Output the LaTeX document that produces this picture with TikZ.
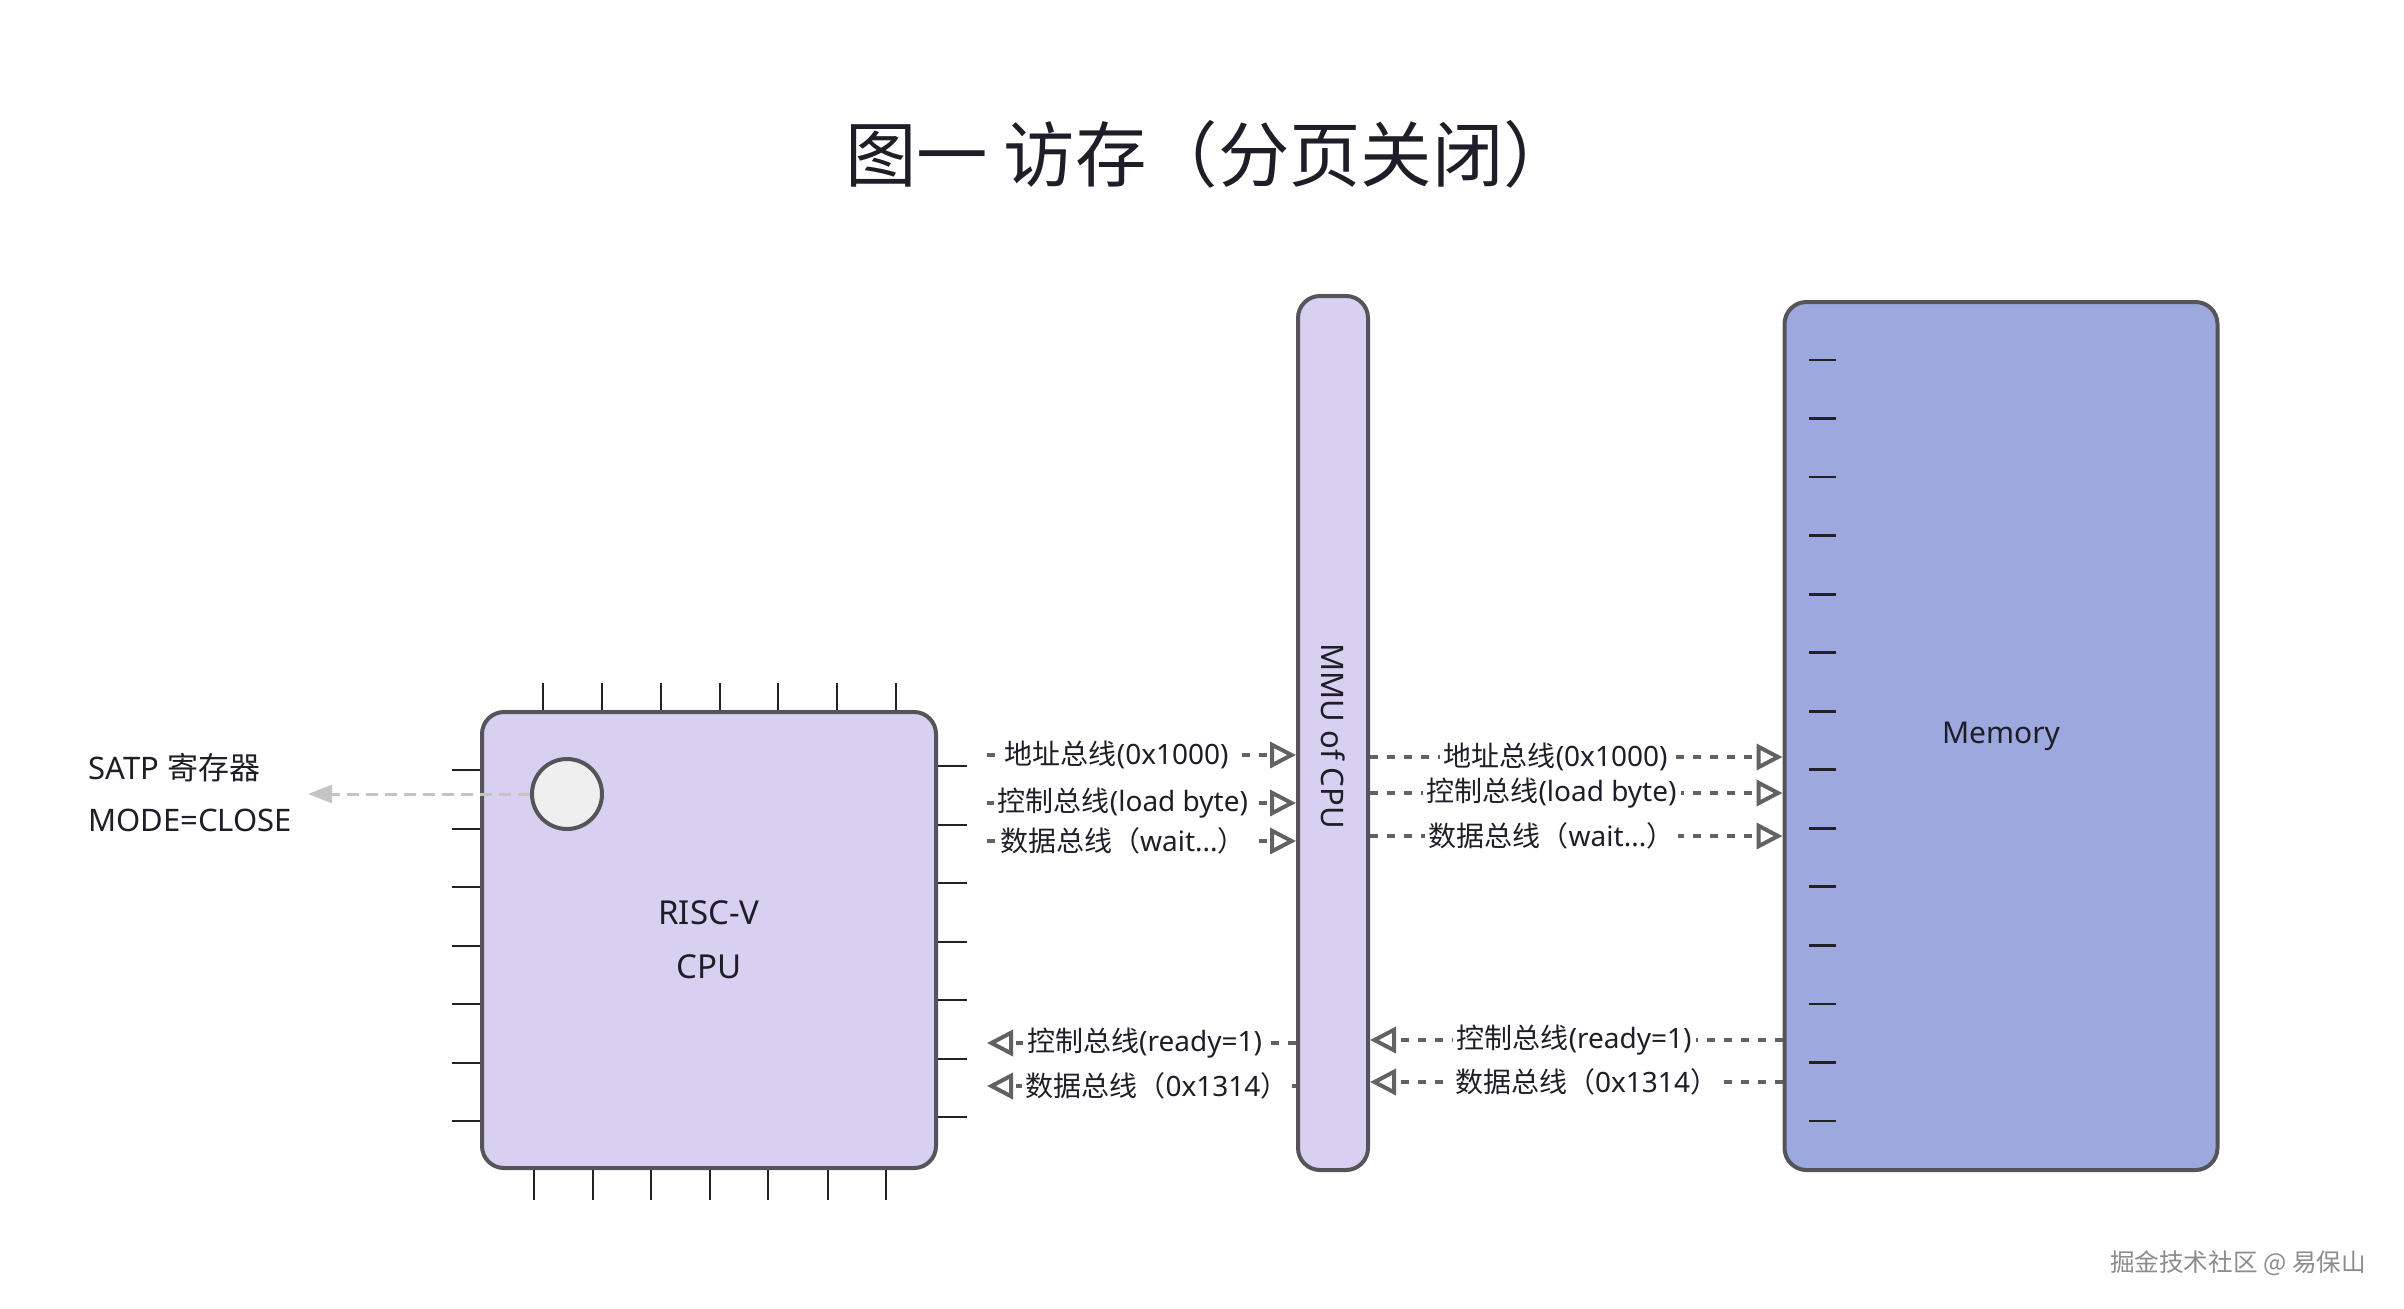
\documentclass[tikz,border=0pt]{standalone}
\usepackage{fontspec}
\setmainfont{Noto Sans}
\newfontfamily\cjk{Noto Sans CJK SC}
\usetikzlibrary{arrows.meta}
\definecolor{cpuc}{HTML}{D8D0F0}
\definecolor{memc}{HTML}{9DA8DF}
\definecolor{edge}{HTML}{555458}
\definecolor{busc}{HTML}{626262}
\definecolor{txt}{HTML}{1E1E28}
\definecolor{pinc}{HTML}{222222}
\definecolor{satpc}{HTML}{C4C4C4}
\definecolor{circc}{HTML}{EFEFEF}
\definecolor{wm}{HTML}{8C8C8C}
\tikzset{
  chip/.style={draw=edge, line width=2pt, rounded corners=11pt, inner sep=0pt, text=txt, font=\fontsize{15}{27}\selectfont, align=center},
  pin/.style={draw=pinc, line width=1.2pt},
  bus/.style={draw=busc, line width=2pt, dash pattern=on 4pt off 4.5pt, -{Triangle[open, length=13pt, width=13pt, line width=2pt]}},
  lbl/.style={fill=white, inner sep=2pt, text=txt, font=\fontsize{14}{16}\selectfont},
  satp/.style={draw=satpc, line width=1.5pt, dash pattern=on 6pt off 3.5pt, -{Triangle[length=12pt, width=9pt, fill=satpc]}},
  plain/.style={text=txt, font=\fontsize{15.5}{18}\selectfont, inner sep=0pt},
}
\begin{document}
\begin{tikzpicture}[x=0.5pt,y=-0.5pt]
\useasboundingbox[fill=white] (0,0) rectangle (2404,1308);

% title
\node[text=txt, font=\cjk\fontsize{35.7}{42}\selectfont] (title) at (1210,154) {图一 访存（分页关闭）};

% CPU pins
\foreach \x in {543,602,661,720,778,837,896} \draw[pin] (\x,683) -- (\x,712);
\foreach \x in {534,593,651,710,768,828,886} \draw[pin] (\x,1168) -- (\x,1200);
\foreach \y in {770,829,887,946,1004,1063,1121} \draw[pin] (452,\y) -- (482,\y);
\foreach \y in {766,825,883,942,1000,1059,1117} \draw[pin] (936,\y) -- (967,\y);

% CPU
\node[chip, fill=cpuc, minimum width=227pt, minimum height=228pt, font=\fontsize{16.5}{27}\selectfont] (cpu) at (709,940) {RISC-V\\CPU};
\node[draw=edge, line width=2pt, fill=circc, circle, minimum size=35pt, inner sep=0pt] (circ) at (567,794) {};

% MMU
\node[chip, fill=cpuc, minimum width=35pt, minimum height=437pt] (mmu) at (1333,733) {};
\node[plain, rotate=-90] (mmut) at (1333,736) {MMU of CPU};

% Memory
\node[chip, fill=memc, minimum width=216.5pt, minimum height=434pt] (mem) at (2001,736) {Memory};
\foreach \k in {0,...,13} \draw[pin, line width=1.4pt] (1809,{360+58.54*\k}) -- (1836,{360+58.54*\k});

% SATP
\coordinate (satpend) at (308,794);
\draw[satp] (circ.west) -- (satpend);
\node[plain, anchor=west] (satp1) at (88,768) {SATP {\cjk 寄存器}};
\node[plain, anchor=west] (satp2) at (88,820) {MODE=CLOSE};

% CPU -> MMU
\coordinate (l1) at (987,755);
\coordinate (l2) at (987,803);
\coordinate (l3) at (987,841);
\coordinate (l4) at (987,1043);
\coordinate (l5) at (987,1086);
\draw[bus] (l1) -- node[lbl, pos=0.42] {{\cjk 地址总线}(0x1000)} (l1 -| mmu.west);
\draw[bus] (l2) -- node[lbl, pos=0.44] {{\cjk 控制总线}(load byte)} (l2 -| mmu.west);
\draw[bus] (l3) -- node[lbl, pos=0.44] {{\cjk 数据总线（}wait...{\cjk ）}} (l3 -| mmu.west);
\draw[bus] (l4 -| mmu.west) -- node[lbl, pos=0.49] {{\cjk 控制总线}(ready=1)} (l4);
\draw[bus] (l5 -| mmu.west) -- node[lbl, pos=0.45] {{\cjk 数据总线（}0x1314{\cjk ）}} (l5);

% MMU <-> Memory
\coordinate (r1) at (1580,757);
\coordinate (r2) at (1580,793);
\coordinate (r3) at (1580,836);
\coordinate (r4) at (1580,1040);
\coordinate (r5) at (1580,1082);
\draw[bus] (r1 -| mmu.east) -- node[lbl, pos=0.45] {{\cjk 地址总线}(0x1000)} (r1 -| mem.west);
\draw[bus] (r2 -| mmu.east) -- node[lbl, pos=0.44] {{\cjk 控制总线}(load byte)} (r2 -| mem.west);
\draw[bus] (r3 -| mmu.east) -- node[lbl, pos=0.44] {{\cjk 数据总线（}wait...{\cjk ）}} (r3 -| mem.west);
\draw[bus] (r4 -| mem.west) -- node[lbl, pos=0.505] {{\cjk 控制总线}(ready=1)} (r4 -| mmu.east);
\draw[bus] (r5 -| mem.west) -- node[lbl, pos=0.475] {{\cjk 数据总线（}0x1314{\cjk ）}} (r5 -| mmu.east);

% watermark
\node[text=wm, font=\cjk\fontsize{12.3}{15}\selectfont] (wmark) at (2238,1263) {掘金技术社区 @ 易保山};
\end{tikzpicture}
\end{document}
